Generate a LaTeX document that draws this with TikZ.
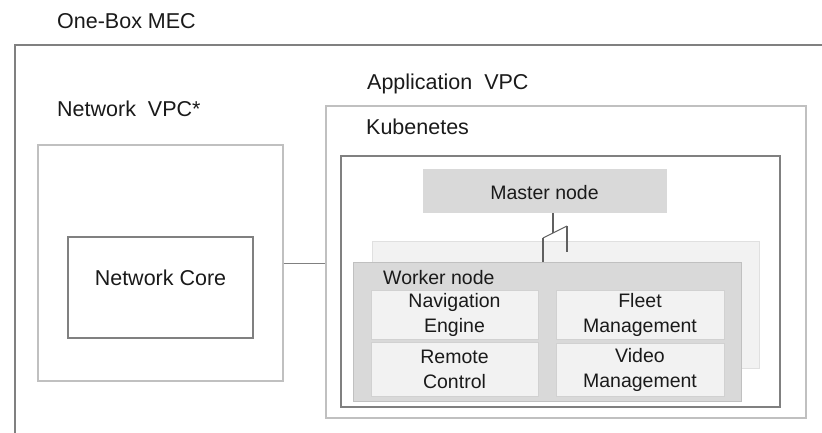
\documentclass[tikz,border=0pt]{standalone}
\usepackage{fontspec}
\setmainfont{Liberation Sans}
\definecolor{edgedark}{HTML}{808080}
\definecolor{edgelight}{HTML}{C0C0C0}
\definecolor{fillmid}{HTML}{D9D9D9}
\definecolor{fillpale}{HTML}{F2F2F2}
\definecolor{wire}{HTML}{606060}
\definecolor{ink}{HTML}{1A1A1A}
\tikzset{
  big/.style={font=\fontsize{21.5}{25}\selectfont, text=ink, inner sep=0pt},
  small/.style={font=\fontsize{19.5}{25}\selectfont, text=ink, inner sep=0pt, align=center},
  lightbox/.style={draw=edgelight, line width=1.6pt, inner sep=0pt},
  darkbox/.style={draw=edgedark, line width=2pt, inner sep=0pt},
  masterbox/.style={fill=fillmid, draw=white, line width=0.8pt, inner sep=0pt},
  ghostbox/.style={fill=fillpale, draw=black!12, line width=1pt, inner sep=0pt},
  workerbox/.style={fill=fillmid, draw=edgelight, line width=1pt, inner sep=0pt},
  appbox/.style={fill=fillpale, draw=black!18, line width=1pt, inner sep=0pt, small},
  link/.style={draw=edgedark, line width=1pt},
  wirelink/.style={draw=wire, line width=1.1pt},
}
\begin{document}
\begin{tikzpicture}[x=1pt, y=-1pt]
\useasboundingbox (0,0) rectangle (822,432);
\clip (0,0) rectangle (822,432);
\fill[white] (0,0) rectangle (822,432);

% outer enclosure, running off the right and bottom edges
\draw[edgedark, line width=2pt] (15,45) rectangle (850,460);
\node[big, anchor=base west] (onebox) at (57,28.4) {One-Box MEC};

% network side
\node[big, anchor=base west] (netlabel) at (57,116) {Network\ \ VPC*};
\node[lightbox, minimum width=245pt, minimum height=236pt] (netvpc) at (160.5,263) {};
\node[darkbox, line width=1.8pt, minimum width=185pt, minimum height=101pt] (netcore) at (160.5,287.5) {};
\node[big, anchor=base] (netcoretext) at (160.5,285) {Network Core};

% application side
\node[big, anchor=base west] (applabel) at (367,89.5) {Application\ \ VPC};
\node[lightbox, minimum width=480pt, minimum height=312pt] (appvpc) at (566,262) {};
\node[big, anchor=base west] (k8slabel) at (366,134) {Kubenetes};
\node[darkbox, minimum width=439pt, minimum height=251pt] (k8s) at (560.5,281.5) {};

% network link
\draw[link] (netvpc.east) -- (appvpc.west |- netvpc.east);

% master node
\node[masterbox, minimum width=245pt, minimum height=45pt] (master) at (544.5,190.5) {};
\node[small, anchor=base] (mastertext) at (544.5,199) {Master node};

% worker nodes (one behind, one in front)
\node[ghostbox, minimum width=387pt, minimum height=127pt] (ghost) at (565.5,304.5) {};
\node[workerbox, minimum width=388pt, minimum height=139pt] (worker) at (547,331.5) {};
\node[small, anchor=base west] (workertext) at (383,284.3) {Worker node};

\node[appbox, minimum width=167pt, minimum height=48.6pt] (nav) at (454.5,315) {Navigation\\Engine};
\node[appbox, minimum width=168pt, minimum height=48.6pt] (fleet) at (640,315) {Fleet\\Management};
\node[appbox, minimum width=167pt, minimum height=54pt] (remote) at (454.5,369) {Remote\\Control};
\node[appbox, minimum width=168pt, minimum height=53pt] (video) at (640,369.5) {Video\\Management};

% master-to-worker wiring
\coordinate (joint) at (553,233);
\coordinate (jleft) at (543,238);
\coordinate (jright) at (567,226);
\coordinate (ghostend) at (567,252);
\draw[wirelink] (master.south -| joint) -- (joint);
\draw[wirelink] (jleft) -- (jright);
\draw[wirelink] (jleft) -- (jleft |- worker.north);
\draw[wirelink] (jright) -- (ghostend);
\end{tikzpicture}
\end{document}
